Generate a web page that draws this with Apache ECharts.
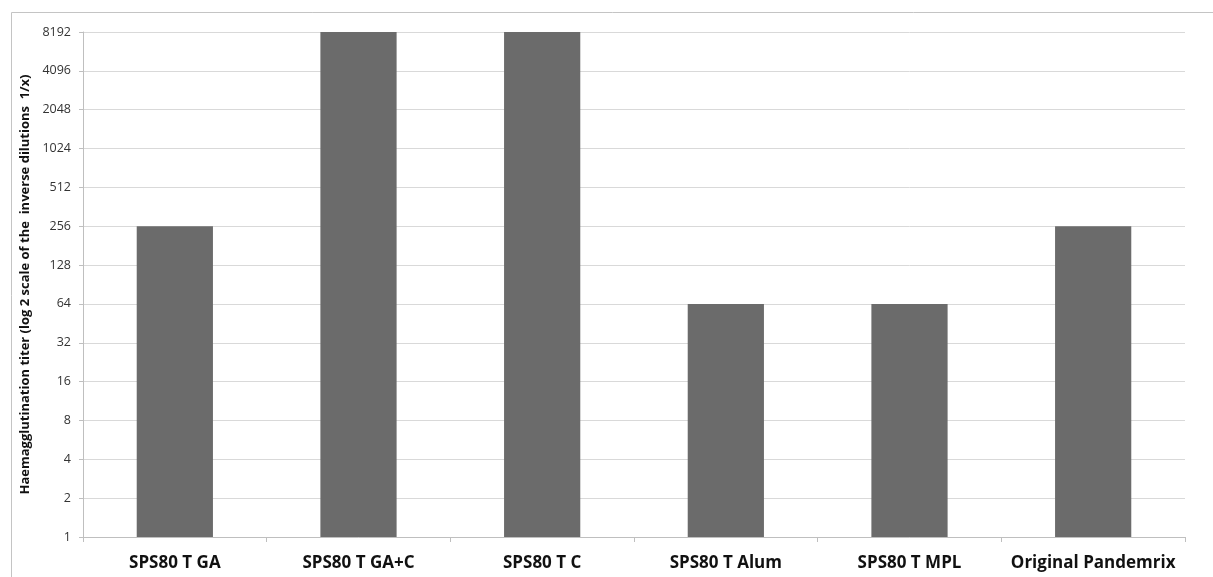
<!DOCTYPE html>
<html>
<head>
<meta charset="utf-8">
<script src="https://cdn.jsdelivr.net/npm/echarts@6/dist/echarts.min.js"></script>
<style>
html,body{margin:0;padding:0;background:#fff;}
#chart{width:1213px;height:577px;}
</style>
</head>
<body>
<div id="chart"></div>
<script>
var categories = ['SPS80 T GA', 'SPS80 T GA+C', 'SPS80 T C', 'SPS80 T Alum', 'SPS80 T MPL', 'Original Pandemrix'];
var titers = [256, 8192, 8192, 64, 64, 256];
var yTitle = 'Haemagglutination titer (log 2 scale of the  inverse dilutions  1/x)';

var chart = echarts.init(document.getElementById('chart'), null, {renderer: 'canvas'});
chart.setOption({
  animation: false,
  backgroundColor: '#fff',
  graphic: [{
    type: 'rect',
    shape: {x: 11.5, y: 12.5, width: 1220, height: 580},
    style: {fill: 'none', stroke: '#c4c4c4', lineWidth: 1},
    silent: true
  }],
  grid: {left: 83, right: 28, top: 32, bottom: 40, containLabel: false},
  xAxis: {
    type: 'category',
    data: categories,
    boundaryGap: true,
    axisLine: {show: true, lineStyle: {color: '#bfbfbf', width: 1}},
    axisTick: {show: true, length: 5, alignWithLabel: false, lineStyle: {color: '#bfbfbf'}},
    axisLabel: {
      interval: 0, margin: 18,
      fontFamily: 'Open Sans', fontWeight: 'bold', fontSize: 17, color: '#111'
    }
  },
  yAxis: {
    type: 'log',
    logBase: 2,
    min: 1,
    max: 8192,
    interval: 1,
    name: yTitle,
    nameLocation: 'middle',
    nameGap: 51,
    nameRotate: 90,
    nameTextStyle: {fontFamily: 'Open Sans', fontWeight: 'bold', fontSize: 13, color: '#111'},
    axisLine: {show: true, lineStyle: {color: '#bfbfbf', width: 1}},
    axisTick: {show: true, length: 4, lineStyle: {color: '#bfbfbf'}},
    axisLabel: {
      margin: 12,
      fontFamily: 'Open Sans', fontSize: 12.5, color: '#333',
      formatter: function (v) { return String(Math.round(v)); }
    },
    splitLine: {show: true, lineStyle: {color: '#d9d9d9', width: 1}}
  },
  series: [{
    type: 'bar',
    data: titers,
    barWidth: '41.5%',
    itemStyle: {color: '#6b6b6b'}
  }]
});
</script>
</body>
</html>
